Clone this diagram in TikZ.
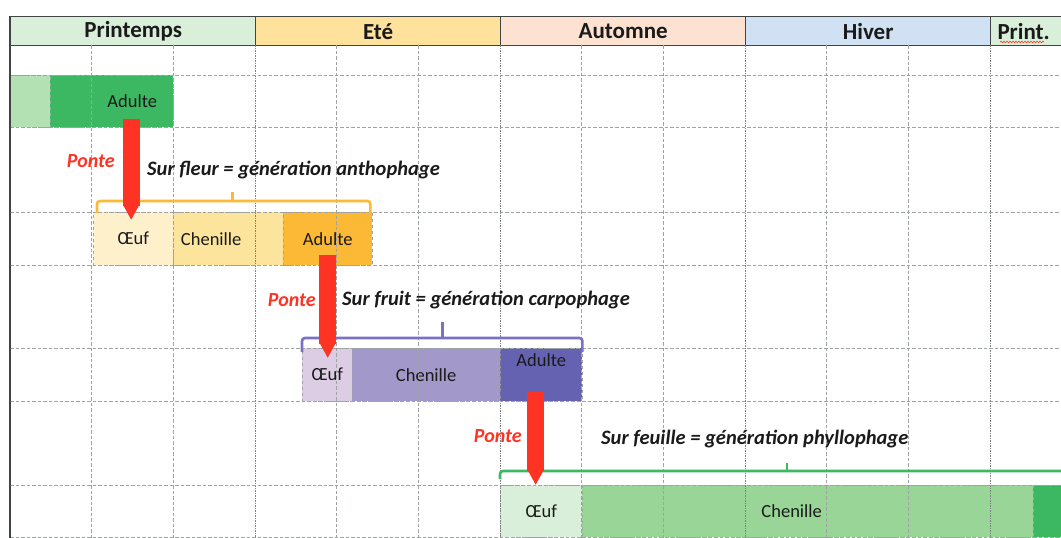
\documentclass[tikz,border=0pt]{standalone}
\usepackage{fontspec}
\setmainfont{Carlito}
\usetikzlibrary{arrows.meta,calc,decorations.pathmorphing}

\definecolor{ink}{HTML}{1A1A1A}
\definecolor{edge}{HTML}{404444}
\definecolor{gridgray}{HTML}{9EA3A3}
\definecolor{hgreen}{HTML}{D9EFD9}
\definecolor{hyellow}{HTML}{FEE29C}
\definecolor{hpeach}{HTML}{FDE1D1}
\definecolor{hblue}{HTML}{CFE1F2}
\definecolor{gpale}{HTML}{B4E1B4}
\definecolor{gdark}{HTML}{3CB862}
\definecolor{gmid}{HTML}{98D596}
\definecolor{glight}{HTML}{D9EFD9}
\definecolor{ocream}{HTML}{FFF0CC}
\definecolor{olight}{HTML}{FDE49D}
\definecolor{obar}{HTML}{FBB935}
\definecolor{plight}{HTML}{DCCDE5}
\definecolor{pmid}{HTML}{A398CA}
\definecolor{pdark}{HTML}{6562B1}
\definecolor{pbrace}{HTML}{7B70C4}
\definecolor{pontered}{HTML}{FF3323}

\begin{document}
\begin{tikzpicture}[x=1pt,y=-1pt,
    season/.style={draw=edge,line width=1.3pt,inner sep=0pt,anchor=north west,
      minimum width=245pt,minimum height=29pt,text=ink,
      font=\fontsize{23}{24}\selectfont\bfseries},
    cell/.style={draw=gridgray,dashed,inner sep=0pt,anchor=north west,text=ink,
      font=\fontsize{18.5}{20}\selectfont},
    celltext/.style={text=ink,font=\fontsize{18.5}{20}\selectfont},
    month/.style={draw=gridgray,line width=0.9pt,dash pattern=on 3.5pt off 2pt},
    seasonline/.style={draw=gridgray!80!black,line width=0.9pt,dash pattern=on 1.5pt off 1pt},
    brace/.style={line width=2.6pt,rounded corners=3pt},
    ponte/.style={draw=pontered,line width=17pt,-{Triangle[length=15pt,width'=0pt 1]}},
    pontetag/.style={anchor=base east,inner sep=0pt,text=pontered,
      font=\fontsize{20}{20}\selectfont\bfseries\itshape},
    gentag/.style={anchor=base west,inner sep=0pt,text=ink,
      font=\fontsize{20.5}{20}\selectfont\bfseries\itshape}]

  \clip (0,0) rectangle (1061,538);

  % saisons
  \node[season,fill=hgreen] (printemps) at (10,16) {Printemps};
  \node[season,fill=hyellow] (ete) at (255,16) {Eté};
  \node[season,fill=hpeach] (automne) at (500,16) {Automne};
  \node[season,fill=hblue] (hiver) at (745,16) {Hiver};
  \node[season,fill=hgreen,minimum width=82pt] (print) at (990,16) {Print.\hspace*{16pt}};
  \draw[pontered,line width=0.6pt,decorate,
    decoration={snake,amplitude=0.8pt,segment length=3pt}] (1000,42) -- (1044,42);

  % generation 0
  \node[cell,fill=gpale,minimum width=40pt,minimum height=52pt] (a0) at (10,75) {};
  \node[cell,fill=gdark,minimum width=123pt,minimum height=52pt,
    label={[celltext,xshift=20.5pt]center:Adulte}] (a1) at (50,75) {};

  % generation anthophage
  \node[cell,fill=ocream,minimum width=80pt,minimum height=53pt] (o2) at (93,212) {Œuf};
  \node[cell,fill=olight,minimum width=110pt,minimum height=53pt,
    label={[celltext,xshift=-17pt]center:Chenille}] (c2) at (173,212) {};
  \node[cell,fill=obar,minimum width=89pt,minimum height=53pt] (a2) at (283,212) {Adulte};

  % generation carpophage
  \node[cell,fill=plight,minimum width=50pt,minimum height=53pt] (o3) at (302,348) {Œuf};
  \node[cell,fill=pmid,minimum width=148pt,minimum height=53pt] (c3) at (352,348) {Chenille};
  \node[cell,fill=pdark,minimum width=82pt,minimum height=53pt,
    label={[celltext,yshift=14.5pt]center:Adulte}] (a3) at (500,348) {};

  % generation phyllophage
  \node[cell,fill=glight,minimum width=82pt,minimum height=52pt] (o4) at (500,485) {Œuf};
  \node[cell,fill=gmid,minimum width=451pt,minimum height=52pt,
    label={[celltext,xshift=-16pt]center:Chenille}] (c4) at (582,485) {};
  \node[cell,fill=gdark,minimum width=40pt,minimum height=52pt] (a4) at (1033,485) {};

  % quadrillage
  \foreach \i in {1,2,4,5,7,8,10,11,13}
    \draw[month] ({10+245/3*\i},45) -- ({10+245/3*\i},538);
  \foreach \i in {3,6,9,12}
    \draw[seasonline] ({10+245/3*\i},45) -- ({10+245/3*\i},538);
  \foreach \y in {75,127,212,265,348,401,485,537}
    \draw[month] (10,\y) -- (1061,\y);
  \draw[edge,line width=1.3pt] (printemps.north west) -- (10,538);

  % accolades
  \draw[brace,obar] ($(o2.north west)+(4,1)$) |- ($(o2.north west)!.5!(a2.north east)+(0,-11)$)
    coordinate (b2) -| ($(a2.north east)+(-2,1)$);
  \draw[brace,obar] (b2) -- ++(0,-9);
  \draw[brace,pbrace] ($(o3.north west)+(0,4)$) |- ($(o3.north west)!.5!(a3.north east)+(0,-10)$)
    coordinate (b3) -| ($(a3.north east)+(0,4)$);
  \draw[brace,pbrace] (b3) -- ++(0,-16);
  \draw[brace,gdark] ($(o4.north west)+(0,-6)$) |- ($(o4.north west)+(287,-14)$)
    coordinate (b4) -- ++(288,0);
  \draw[brace,gdark] (b4) -- ++(0,-8);

  % pontes
  \draw[ponte] ($(a1.south -| o2.north)+(-2,-8)$) -- ($(o2.north)+(-2,8)$);
  \draw[ponte] ($(a2.south)+(0,-10)$) -- ($(a2.south |- o3.north)+(0,10)$);
  \draw[ponte] ($(a3.south)+(-5.5,-9)$) -- ($(o4.north)+(-5.5,0)$);

  % textes
  \node[pontetag] (p2) at (115,167) {Ponte};
  \node[gentag] (g2) at (147,175) {Sur fleur = génération anthophage};
  \node[pontetag] (p3) at (316,306) {Ponte};
  \node[gentag] (g3) at (342,305) {Sur fruit = génération carpophage};
  \node[pontetag] (p4) at (522,442) {Ponte};
  \node[gentag] (g4) at (601,444) {Sur feuille = génération phyllophage};
\end{tikzpicture}
\end{document}
